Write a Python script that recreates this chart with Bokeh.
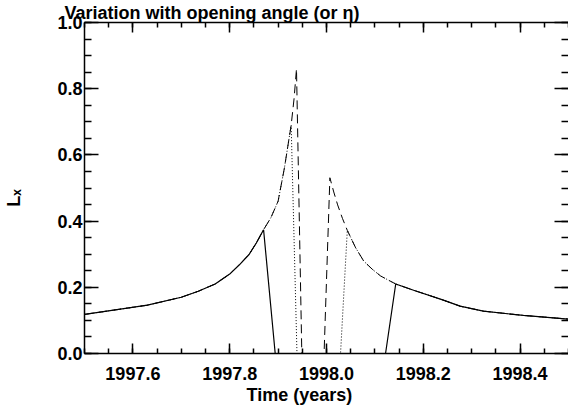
from bokeh.plotting import figure
from bokeh.models import Range1d, LinearAxis, SingleIntervalTicker, FixedTicker, PrintfTickFormatter, Title
from bokeh.embed import file_html
from bokeh.resources import INLINE

# ---- data ----
# common light curve before periastron (time in years, Lx)
ingress_t = [1997.50, 1997.56, 1997.63, 1997.70, 1997.735, 1997.77, 1997.80, 1997.82,
             1997.84, 1997.855, 1997.870, 1997.885, 1997.90, 1997.913, 1997.927, 1997.933, 1997.938]
ingress_L = [0.118, 0.131, 0.146, 0.170, 0.188, 0.210, 0.240, 0.268,
             0.299, 0.334, 0.374, 0.410, 0.460, 0.560, 0.690, 0.770, 0.860]
# common light curve after periastron
egress_t = [1998.007, 1998.015, 1998.023, 1998.033, 1998.043, 1998.06, 1998.077, 1998.095,
            1998.112, 1998.143, 1998.18, 1998.24, 1998.276, 1998.324, 1998.407, 1998.50]
egress_L = [0.531, 0.488, 0.449, 0.408, 0.372, 0.320, 0.279, 0.254,
            0.234, 0.210, 0.191, 0.162, 0.143, 0.128, 0.115, 0.104]

# eclipse (zero) intervals for the three opening angles
solid_zero_t = [1997.894, 1998.122]
dotted_zero_t = [1997.939, 1998.029]
dashed_zero_t = [1997.949, 1997.995]
zero_L = [0.0, 0.0]

solid_t = ingress_t[:11] + solid_zero_t + egress_t[9:]
solid_L = ingress_L[:11] + zero_L + egress_L[9:]
dotted_t = ingress_t[:15] + dotted_zero_t + egress_t[4:]
dotted_L = ingress_L[:15] + zero_L + egress_L[4:]
dashed_t = ingress_t + dashed_zero_t + egress_t
dashed_L = ingress_L + zero_L + egress_L

title_text = "Variation with opening angle (or η)"
x_title = "Time (years)"
y_title = "Lₓ"

FONT = "Liberation Sans"

p = figure(width=568, height=412, title=title_text,
           x_range=Range1d(1997.5, 1998.5), y_range=Range1d(0.0, 1.0),
           output_backend="svg", toolbar_location=None,
           min_border_left=83, min_border_right=0, min_border_top=20, min_border_bottom=59,
           background_fill_color="white", border_fill_color="white")
p.outline_line_color = None
p.xgrid.visible = False
p.ygrid.visible = False


def style_title(t, size="18px"):
    t.text_font = FONT
    t.text_font_style = "bold"
    t.text_font_size = size
    t.text_color = "black"


p.title.align = "left"
p.title.offset = -20
p.title.standoff = 0
style_title(p.title)

p.line(dashed_t, dashed_L, line_color="black", line_width=1, line_dash="9 5")
p.line(dotted_t, dotted_L, line_color="black", line_width=1, line_dash="1 2")
p.line(solid_t, solid_L, line_color="black", line_width=1.2)

top = LinearAxis()
right = LinearAxis()
p.add_layout(top, "above")
p.add_layout(right, "right")


def style(ax, major, minor, labels=True, line=True):
    ax.ticker = SingleIntervalTicker(interval=0.2, num_minor_ticks=4)
    ax.formatter = PrintfTickFormatter(format="%.1f")
    ax.major_tick_in = major
    ax.major_tick_out = 0
    ax.minor_tick_in = minor
    ax.minor_tick_out = 0
    ax.axis_line_width = 1.5
    ax.major_tick_line_width = 1.5
    ax.minor_tick_line_width = 1.5
    ax.major_label_text_font = FONT
    ax.major_label_text_font_style = "bold"
    ax.major_label_text_font_size = "18px"
    ax.major_label_text_color = "black"
    if not labels:
        ax.major_label_text_font_size = "1px"
        ax.major_label_text_color = None
        ax.major_label_standoff = 0
    if not line:
        ax.axis_line_alpha = 0


for ax in p.below:
    style(ax, 10, 5)
    ax.major_label_standoff = 13
for ax in p.left:
    style(ax, 14, 7)
    ax.major_label_standoff = 2
style(top, 10, 5, labels=False)
style(right, 14, 7, labels=False, line=False)

# x-axis title, placed left of centre as in the reference
xt = Title(text=x_title, align="left", offset=162, standoff=1)
style_title(xt)
p.add_layout(xt, "below")

# y-axis title on an extra tick-less axis, pushed outward
yt = LinearAxis(ticker=FixedTicker(ticks=[]))
yt.axis_line_alpha = 0
yt.major_tick_in = 0
yt.major_tick_out = 0
yt.minor_tick_in = 0
yt.minor_tick_out = 0
yt.major_label_standoff = 0
yt.axis_label = y_title + "\u00a0" * 4
yt.axis_label_standoff = 31
yt.axis_label_text_font = FONT
yt.axis_label_text_font_style = "bold"
yt.axis_label_text_font_size = "18px"
yt.axis_label_text_color = "black"
p.add_layout(yt, "left")

open("out.html", "w").write(file_html(p, INLINE))
